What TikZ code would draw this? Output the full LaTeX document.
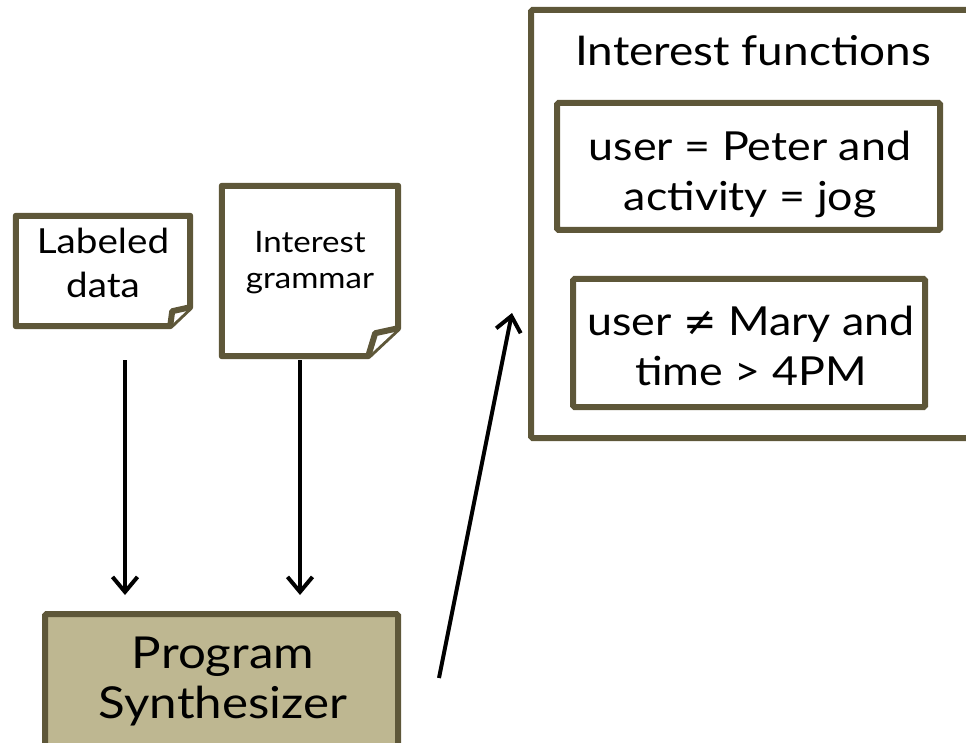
\documentclass[tikz,border=0pt]{standalone}
\usepackage{fontspec}
\setmainfont{Lato}[FakeStretch=1.12]
\newfontfamily\symfont{DejaVu Sans}
\usetikzlibrary{arrows.meta}
\definecolor{olive}{RGB}{94,87,57}
\definecolor{khaki}{RGB}{190,183,145}
\tikzset{
  shapebox/.style={draw=olive, line width=6pt, rounded corners=1.5pt, inner sep=0pt},
  docshape/.style={draw=olive, line width=6pt, line join=round, fill=white},
  txt/.style={align=center, inner sep=0pt, text=black},
  arr/.style={line width=4pt, -{Straight Barb[length=15pt,width=25pt,line width=4pt]}},
}
\begin{document}
\begin{tikzpicture}[x=1pt,y=-1pt]
\useasboundingbox (0,0) rectangle (966,743);
% Labeled data document
\node (ld) [minimum width=174pt, minimum height=110pt, inner sep=0pt] at (103,271) {};
\draw[docshape] (ld.north west) -- (ld.north east) -- ([yshift=19pt]ld.south east)
  -- ([xshift=-20pt]ld.south east) -- (ld.south west) -- cycle;
\draw[docshape] ([yshift=19pt]ld.south east) -- ([xshift=-18pt,yshift=15pt]ld.south east)
  -- ([xshift=-20pt]ld.south east);
\node (ldt) [txt, font=\fontsize{34.5}{44}\selectfont] at (103,262.5) {Labeled\\data};
% Interest grammar document
\node (ig) [minimum width=176pt, minimum height=170pt, inner sep=0pt] at (310,271) {};
\draw[docshape] (ig.north west) -- (ig.north east) -- ([yshift=28pt]ig.south east)
  -- ([xshift=-30pt]ig.south east) -- (ig.south west) -- cycle;
\draw[docshape] ([yshift=28pt]ig.south east) -- ([xshift=-23pt,yshift=23pt]ig.south east)
  -- ([xshift=-30pt]ig.south east);
\node (igt) [txt, font=\fontsize{29.5}{36}\selectfont] at (310,262.5) {Interest\\grammar};
% Program Synthesizer
\node (ps) [shapebox, fill=khaki, minimum width=353pt, minimum height=152pt] at (221.5,690) {};
\node (pst) [txt, font=\fontsize{44}{50}\selectfont] at (223,682) {Program\\Synthesizer};
% Interest functions
\node (out) [shapebox, minimum width=459pt, minimum height=428pt] at (760.5,224) {};
\node (outt) [txt, font=\fontsize{41}{52}\selectfont] at (753,51) {Interest functions};
\node (b1) [shapebox, minimum width=383pt, minimum height=127pt] at (748.5,166.5) {};
\node (b1t) [txt, font=\fontsize{40}{50}\selectfont] at (750,174.5) {user = Peter and\\activity = jog};
\node (b2) [shapebox, minimum width=352pt, minimum height=128pt] at (749,343) {};
\node (b2t) [txt, font=\fontsize{40}{50}\selectfont] at (751,345.5) {user {\symfont ≠} Mary and\\time > 4PM};
% arrows
\draw[arr] ([xshift=22pt,yshift=-34pt]ld.south) -- ([xshift=-96.5pt,yshift=16pt]ps.north);
\draw[arr] ([xshift=-10pt,yshift=-4pt]ig.south) -- ([xshift=78.5pt,yshift=16pt]ps.north);
\draw[arr] ([xshift=38pt,yshift=12pt]ps.east) -- ([xshift=-16pt,yshift=-89pt]out.west);
\end{tikzpicture}
\end{document}
